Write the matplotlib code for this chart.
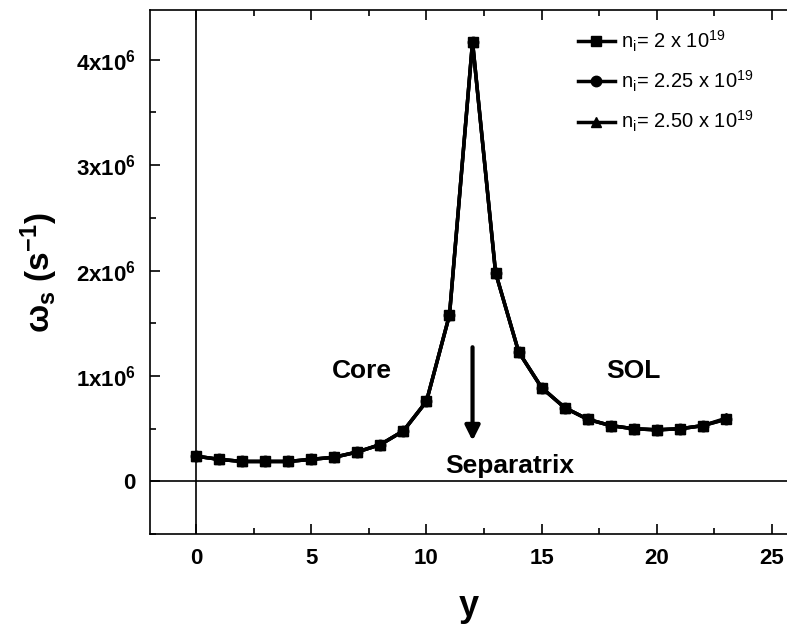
import matplotlib
matplotlib.use('Agg')
import matplotlib.pyplot as plt
from matplotlib.ticker import MultipleLocator, FuncFormatter

plt.rcParams['font.family'] = ['Liberation Sans', 'DejaVu Sans']
plt.rcParams['mathtext.fontset'] = 'custom'
plt.rcParams['mathtext.rm'] = 'Liberation Sans'
plt.rcParams['mathtext.it'] = 'Liberation Sans:italic'
plt.rcParams['mathtext.bf'] = 'Liberation Sans:bold'

# grid position y and frequency omega_s (s^-1) for three ion densities
y_pos = list(range(24))
omega_n200 = [0.24e6, 0.21e6, 0.19e6, 0.19e6, 0.19e6, 0.21e6, 0.23e6, 0.28e6,
              0.35e6, 0.48e6, 0.76e6, 1.58e6, 4.17e6, 1.98e6, 1.23e6, 0.89e6,
              0.70e6, 0.59e6, 0.53e6, 0.50e6, 0.49e6, 0.50e6, 0.53e6, 0.59e6]
omega_n225 = [0.24e6, 0.21e6, 0.19e6, 0.19e6, 0.19e6, 0.21e6, 0.23e6, 0.28e6,
              0.35e6, 0.48e6, 0.76e6, 1.58e6, 4.17e6, 1.98e6, 1.23e6, 0.89e6,
              0.70e6, 0.59e6, 0.53e6, 0.50e6, 0.49e6, 0.50e6, 0.53e6, 0.59e6]
omega_n250 = [0.24e6, 0.21e6, 0.19e6, 0.19e6, 0.19e6, 0.21e6, 0.23e6, 0.28e6,
              0.35e6, 0.48e6, 0.76e6, 1.58e6, 4.17e6, 1.98e6, 1.23e6, 0.89e6,
              0.70e6, 0.59e6, 0.53e6, 0.50e6, 0.49e6, 0.50e6, 0.53e6, 0.60e6]
labels = [r'n$_\mathrm{i}$= 2 x 10$^{19}$',
          r'n$_\mathrm{i}$= 2.25 x 10$^{19}$',
          r'n$_\mathrm{i}$= 2.50 x 10$^{19}$']

fig = plt.figure(figsize=(7.87, 6.39), dpi=100)
ax = fig.add_axes([0.1906, 0.164, 0.8094, 0.82])

for vals, mk, lab in zip([omega_n200, omega_n225, omega_n250], ['s', 'o', '^'], labels):
    ax.plot(y_pos, vals, color='black', lw=2.5, marker=mk, markersize=7.5, label=lab)

ax.axhline(0, color='black', lw=1.2)
ax.axvline(0, color='black', lw=1.2)

ax.set_xlim(-2, 25.65)
ax.set_ylim(-0.5e6, 4.47e6)

ax.xaxis.set_major_locator(MultipleLocator(5))
ax.xaxis.set_minor_locator(MultipleLocator(2.5))
ax.yaxis.set_major_locator(MultipleLocator(1e6))
ax.yaxis.set_minor_locator(MultipleLocator(0.5e6))


def ylab(v, pos):
    n = int(round(v / 1e6))
    if n == 0:
        return r'$\mathbf{0}$'
    return r'$\mathbf{%dx10^{6}}$' % n


ax.yaxis.set_major_formatter(FuncFormatter(ylab))
ax.tick_params(which='both', direction='in', top=True, right=False, width=1.2)
ax.tick_params(which='major', length=7, labelsize=16, pad=10)
ax.tick_params(which='minor', length=4)
for t in ax.get_xticklabels():
    t.set_fontweight('bold')
for s in ax.spines.values():
    s.set_linewidth(1.2)
ax.spines['right'].set_visible(False)

ax.set_xlabel('y', fontsize=26, fontweight='bold', labelpad=14)
ax.set_ylabel(r'$\mathbf{\omega_s}$ $\mathbf{(s^{-1})}$', fontsize=24, labelpad=12)

ax.text(7.2, 1.05e6, 'Core', fontsize=19, fontweight='bold', ha='center', va='center')
ax.text(19.0, 1.05e6, 'SOL', fontsize=19, fontweight='bold', ha='center', va='center')
ax.text(13.6, 0.15e6, 'Separatrix', fontsize=19, fontweight='bold', ha='center', va='center')
ax.annotate('', xy=(12, 0.36e6), xytext=(12, 1.3e6),
            arrowprops=dict(arrowstyle='-|>', color='black', lw=3, mutation_scale=22))

ax.legend(loc='upper right', bbox_to_anchor=(0.975, 1.0), frameon=False, fontsize=14.5,
          handlelength=1.8, handletextpad=0.3, labelspacing=0.75)

fig.savefig('out.png', dpi=100)
